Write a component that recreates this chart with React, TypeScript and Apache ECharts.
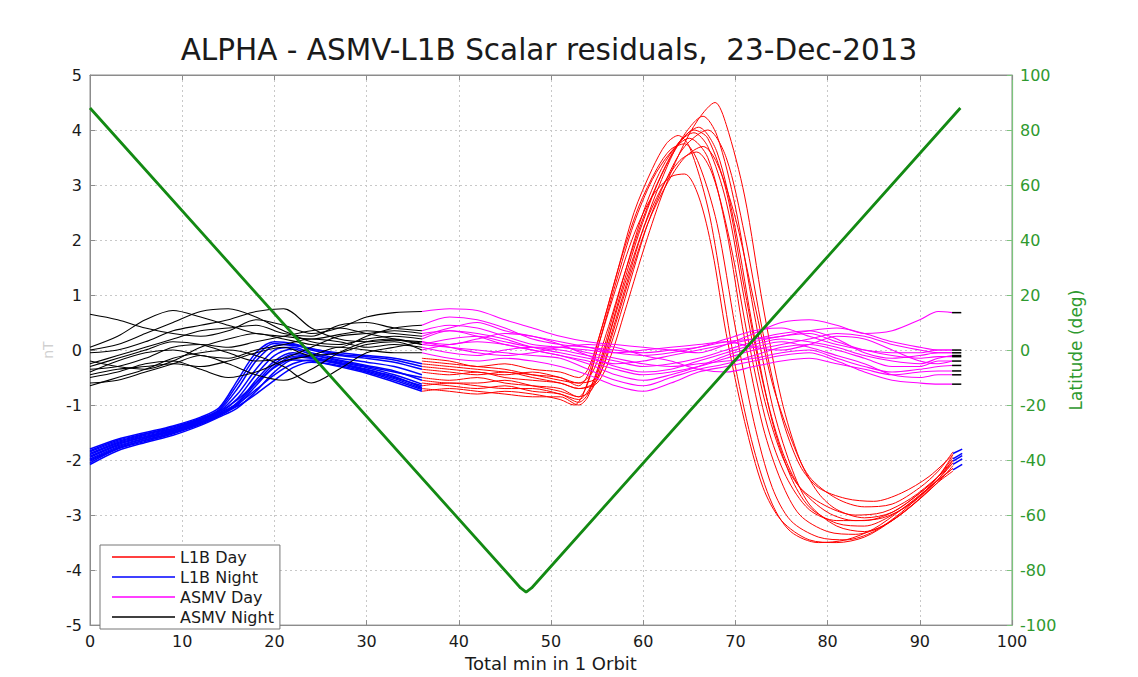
import React, { useEffect, useRef } from "react";
import * as echarts from "echarts";

const chartTitle = "ALPHA - ASMV-L1B Scalar residuals,  23-Dec-2013";
const xAxisName = "Total min in 1 Orbit";
const rightAxisName = "Latitude (deg)";
const leftAxisName = "nT";
const seriesNames = ["L1B Day", "L1B Night", "ASMV Day", "ASMV Night"];
const seriesColors = ["#ff0000", "#0000ff", "#ff00ff", "#000000"];
const latColor = "#138a13";
const axisGreen = "#2f9a2f";

// Latitude (right axis)
const latX = [0, 46.7, 47.3, 47.9, 94.4];
const latY = [88, -86.5, -88, -86.5, 88];

// ASMV Night (black), 0..36 min
const asmvNightX = [0, 3, 6, 9, 12, 15, 18, 21, 24, 27, 30, 33, 36];
const asmvNightY = [
  [0.65, 0.55, 0.40, 0.30, 0.25, 0.35, 0.55, 0.45, 0.30, 0.40, 0.60, 0.68, 0.70],
  [0.05, 0.25, 0.55, 0.72, 0.60, 0.45, 0.30, 0.25, 0.20, 0.28, 0.35, 0.30, 0.25],
  [0.00, 0.10, 0.30, 0.50, 0.70, 0.75, 0.60, 0.35, 0.15, 0.10, 0.20, 0.25, 0.20],
  [-0.05, 0.00, 0.15, 0.35, 0.45, 0.55, 0.70, 0.75, 0.40, 0.20, 0.15, 0.18, 0.15],
  [-0.25, -0.10, 0.05, 0.20, 0.35, 0.40, 0.45, 0.30, 0.25, 0.45, 0.50, 0.40, 0.35],
  [-0.35, -0.30, -0.15, 0.05, 0.10, 0.05, 0.15, 0.25, 0.35, 0.40, 0.30, 0.20, 0.10],
  [-0.40, -0.20, -0.05, 0.00, -0.10, -0.15, 0.00, 0.10, 0.20, 0.15, 0.05, 0.10, 0.05],
  [-0.45, -0.35, -0.30, -0.25, -0.30, -0.20, -0.05, 0.05, -0.10, -0.05, 0.10, 0.15, 0.00],
  [-0.50, -0.40, -0.25, -0.20, -0.35, -0.50, -0.40, -0.20, -0.10, 0.05, 0.00, -0.05, -0.05],
  [-0.60, -0.55, -0.40, -0.25, -0.10, -0.25, -0.45, -0.55, -0.35, -0.05, 0.15, 0.20, 0.10],
  [-0.65, -0.50, -0.35, -0.15, -0.05, 0.00, -0.10, -0.30, -0.60, -0.35, -0.05, 0.05, 0.15],
  [-0.30, -0.15, 0.00, 0.15, 0.10, -0.05, -0.20, -0.15, 0.05, 0.25, 0.30, 0.35, 0.30],
  [-0.20, -0.30, -0.35, -0.20, 0.05, 0.20, 0.30, 0.20, 0.10, 0.05, 0.25, 0.40, 0.45],
];

// ASMV Day (magenta), 36..93.5 min
const asmvDayX = [36, 39, 42, 45, 48, 51, 54, 57, 60, 63, 66, 69, 72, 75, 78, 81, 84, 87, 90, 92, 93.5];
const asmvDayY = [
  [0.70, 0.75, 0.72, 0.55, 0.40, 0.25, 0.15, 0.10, 0.05, 0.00, -0.05, 0.10, 0.30, 0.50, 0.55, 0.45, 0.30, 0.35, 0.55, 0.70, 0.68],
  [0.25, 0.40, 0.50, 0.35, 0.25, 0.15, 0.05, -0.05, -0.10, -0.05, 0.05, 0.20, 0.35, 0.40, 0.25, 0.10, 0.00, -0.05, -0.05, 0.00, 0.00],
  [0.20, 0.35, 0.30, 0.20, 0.05, -0.05, -0.15, -0.25, -0.20, -0.10, 0.00, 0.10, 0.20, 0.30, 0.35, 0.20, -0.05, -0.15, -0.10, -0.05, -0.05],
  [0.15, 0.10, 0.20, 0.30, 0.25, 0.10, -0.10, -0.30, -0.40, -0.35, -0.20, -0.05, 0.10, 0.20, 0.15, 0.05, -0.10, -0.20, -0.25, -0.15, -0.10],
  [0.35, 0.45, 0.40, 0.25, 0.10, 0.05, 0.00, -0.05, 0.00, 0.05, 0.10, 0.15, 0.05, 0.00, 0.10, 0.25, 0.20, 0.00, -0.20, -0.25, -0.20],
  [0.10, 0.05, 0.00, -0.05, -0.10, -0.15, -0.35, -0.55, -0.65, -0.50, -0.35, -0.25, -0.10, 0.05, 0.10, 0.00, -0.15, -0.30, -0.30, -0.20, -0.20],
  [0.05, -0.05, -0.10, 0.00, 0.05, 0.05, -0.05, -0.15, -0.25, -0.30, -0.25, -0.20, -0.15, -0.05, 0.00, -0.15, -0.30, -0.40, -0.35, -0.30, -0.28],
  [0.00, 0.10, 0.15, 0.10, 0.00, -0.10, -0.25, -0.45, -0.55, -0.45, -0.30, -0.10, 0.05, 0.15, 0.05, -0.10, -0.25, -0.45, -0.50, -0.45, -0.45],
  [-0.05, -0.15, -0.20, -0.15, -0.20, -0.30, -0.45, -0.65, -0.75, -0.60, -0.40, -0.30, -0.20, -0.10, -0.05, -0.20, -0.40, -0.55, -0.60, -0.62, -0.62],
  [0.10, 0.20, 0.25, 0.15, 0.05, 0.00, -0.10, -0.20, -0.30, -0.25, -0.15, 0.00, 0.15, 0.25, 0.30, 0.15, 0.00, -0.10, -0.15, -0.12, -0.12],
  [0.15, 0.05, -0.05, -0.10, -0.05, 0.05, 0.10, 0.05, -0.10, -0.20, -0.35, -0.40, -0.30, -0.20, -0.15, -0.25, -0.35, -0.45, -0.40, -0.38, -0.38],
  [0.30, 0.35, 0.25, 0.10, 0.00, -0.10, -0.20, -0.35, -0.45, -0.40, -0.30, -0.15, 0.00, 0.10, 0.20, 0.30, 0.25, 0.10, 0.00, -0.05, -0.05],
  [0.45, 0.60, 0.55, 0.40, 0.20, 0.10, 0.05, 0.00, -0.05, 0.00, 0.05, 0.15, 0.20, 0.25, 0.35, 0.40, 0.30, 0.15, 0.05, 0.00, 0.00],
];

// ASMV Night tail (black stubs at end of orbit)
const asmvNightTailX = [93.5, 94.5];
const asmvNightTailY = [0.68, 0.00, -0.05, -0.10, -0.20, -0.28, -0.38, -0.45, -0.62, -0.12];

// L1B Night (blue), 0..36 min
const l1bNightX = [0, 3, 6, 9, 12, 14, 16, 18, 20, 22, 24, 27, 30, 33, 36];
const l1bNightY = [
  [-1.80, -1.62, -1.50, -1.38, -1.22, -1.05, -0.55, -0.05, 0.15, 0.12, 0.02, -0.05, -0.10, -0.15, -0.25],
  [-1.85, -1.66, -1.53, -1.42, -1.25, -1.10, -0.70, -0.20, 0.08, 0.10, 0.00, -0.10, -0.15, -0.22, -0.35],
  [-1.90, -1.70, -1.57, -1.45, -1.27, -1.12, -0.80, -0.35, 0.00, 0.05, -0.05, -0.15, -0.22, -0.30, -0.45],
  [-1.95, -1.74, -1.60, -1.47, -1.30, -1.15, -0.88, -0.45, -0.10, 0.02, -0.08, -0.18, -0.28, -0.38, -0.55],
  [-2.00, -1.78, -1.63, -1.50, -1.32, -1.18, -0.95, -0.55, -0.20, -0.05, -0.12, -0.22, -0.32, -0.45, -0.62],
  [-2.05, -1.80, -1.66, -1.52, -1.35, -1.20, -1.00, -0.65, -0.30, -0.12, -0.15, -0.25, -0.38, -0.52, -0.70],
  [-2.08, -1.83, -1.68, -1.55, -1.37, -1.22, -1.05, -0.75, -0.40, -0.18, -0.20, -0.30, -0.42, -0.58, -0.75],
  [-1.88, -1.68, -1.55, -1.43, -1.26, -1.12, -0.90, -0.60, -0.32, -0.15, -0.10, -0.20, -0.30, -0.40, -0.50],
  [-1.93, -1.72, -1.58, -1.46, -1.28, -1.14, -0.98, -0.72, -0.45, -0.25, -0.18, -0.25, -0.35, -0.50, -0.65],
  [-1.98, -1.76, -1.61, -1.48, -1.31, -1.16, -1.02, -0.80, -0.55, -0.32, -0.22, -0.28, -0.40, -0.55, -0.72],
  [-1.83, -1.64, -1.52, -1.40, -1.24, -1.08, -0.62, -0.12, 0.12, 0.08, 0.03, -0.08, -0.12, -0.18, -0.30],
  [-2.02, -1.79, -1.64, -1.51, -1.33, -1.19, -0.97, -0.60, -0.25, -0.08, -0.14, -0.24, -0.36, -0.48, -0.68],
];

// L1B Night tail (blue stubs at end of orbit)
const l1bNightTailX = [93.6, 94.6];
const l1bNightTailStart = [-1.88, -1.98, -2.08, -2.18, -2.02];
const l1bNightTailEnd = [-1.80, -1.88, -1.98, -2.08, -1.92];

// L1B Day (red), 36..93.6 min, [minute, nT]
const l1bDay1 = [[36,-0.35],[39,-0.4],[42,-0.45],[45,-0.4],[48,-0.5],[51,-0.6],[53,-0.7],[55,-0.6],[56.5,-0.1],[58,0.7],[60,1.8],[62,2.8],[64,3.6],[66,4.2],[67.8,4.5],[69,4.1],[71,2.8],[73,0.8],[75,-0.9],[77,-2.0],[79,-2.6],[81,-2.9],[84,-3.05],[87,-2.95],[90,-2.6],[92,-2.3],[93.6,-1.9]];
const l1bDay2 = [[36,-0.5],[39,-0.55],[42,-0.5],[45,-0.6],[48,-0.65],[51,-0.7],[53,-0.85],[54.5,-0.7],[56,0.0],[58,1.1],[60,2.2],[62,3.1],[64,3.8],[66.5,4.25],[68,3.9],[70,2.6],[72,0.7],[74,-1.0],[76,-2.1],[78,-2.8],[81,-3.2],[84,-3.3],[87,-3.1],[90,-2.7],[92,-2.35],[93.6,-2.0]];
const l1bDay3 = [[36,-0.25],[39,-0.3],[42,-0.35],[45,-0.4],[48,-0.45],[51,-0.55],[53,-0.6],[54.5,-0.4],[56,0.3],[58,1.4],[60,2.4],[62,3.2],[64,3.8],[66,4.05],[68,3.6],[70,2.2],[72,0.3],[74,-1.3],[76,-2.3],[78,-2.85],[81,-3.15],[84,-3.2],[87,-3.0],[90,-2.65],[92,-2.3],[93.6,-1.95]];
const l1bDay4 = [[36,-0.6],[39,-0.65],[42,-0.7],[45,-0.65],[48,-0.75],[51,-0.8],[53,-0.95],[54,-0.8],[55.5,-0.1],[57.5,1.1],[60,2.5],[62,3.3],[64,3.8],[65.5,3.95],[67,3.7],[69,2.7],[71,0.9],[73,-0.8],[75,-1.9],[77,-2.5],[80,-2.85],[83,-3.0],[86,-2.95],[89,-2.7],[92,-2.3],[93.6,-2.05]];
const l1bDay5 = [[36,-0.7],[39,-0.75],[42,-0.8],[45,-0.75],[48,-0.8],[51,-0.9],[52.5,-1.0],[53.5,-0.8],[55,0.0],[57,1.2],[59,2.3],[61,3.1],[63,3.6],[65,3.85],[67,3.5],[69,2.2],[71,0.2],[73,-1.4],[75,-2.4],[77,-3.0],[80,-3.3],[83,-3.35],[86,-3.2],[89,-2.85],[92,-2.4],[93.6,-2.1]];
const l1bDay6 = [[36,-0.15],[39,-0.2],[42,-0.3],[45,-0.25],[48,-0.35],[51,-0.4],[53,-0.5],[54,-0.35],[55.5,0.4],[57.5,1.6],[59.5,2.6],[61.5,3.3],[63,3.65],[64.5,3.75],[66,3.4],[68,2.3],[70,0.4],[72,-1.3],[74,-2.5],[76,-3.1],[79,-3.4],[82,-3.45],[85,-3.3],[88,-2.95],[91,-2.5],[93.6,-2.15]];
const l1bDay7 = [[36,-0.55],[39,-0.6],[42,-0.6],[45,-0.55],[48,-0.65],[51,-0.75],[53,-0.85],[54,-0.6],[55,0.0],[57,1.1],[59,2.1],[61,2.8],[63,3.15],[64.5,3.2],[66,2.8],[67.5,1.8],[69,0.3],[71,-1.3],[73,-2.5],[75,-3.1],[78,-3.45],[81,-3.5],[84,-3.4],[87,-3.1],[90,-2.7],[92,-2.4],[93.6,-2.2]];
const l1bDay8 = [[36,-0.4],[39,-0.45],[42,-0.4],[45,-0.5],[48,-0.55],[51,-0.6],[53,-0.7],[55,-0.55],[56.5,0.2],[58.5,1.3],[60.5,2.3],[62.5,3.0],[64.5,3.5],[66.5,3.7],[68,3.4],[70,2.4],[72,0.9],[74,-0.6],[76,-1.6],[78,-2.3],[81,-2.7],[84,-2.85],[87,-2.8],[90,-2.5],[92,-2.2],[93.6,-1.85]];
const l1bDay9 = [[36,-0.3],[39,-0.35],[42,-0.4],[45,-0.45],[48,-0.4],[51,-0.5],[53,-0.6],[55,-0.5],[56.5,0.1],[58.5,1.2],[60.5,2.3],[62.5,3.1],[64.5,3.7],[67,4.0],[69,3.5],[71,2.1],[73,0.3],[75,-1.2],[77,-2.1],[79,-2.5],[82,-2.7],[85,-2.75],[88,-2.6],[91,-2.3],[93.6,-1.9]];
const l1bDay10 = [[36,-0.65],[39,-0.6],[42,-0.65],[45,-0.7],[48,-0.7],[51,-0.8],[53,-0.9],[54.5,-0.6],[56,0.1],[58,1.2],[60,2.2],[62,2.95],[64,3.45],[65.8,3.6],[67.5,3.2],[69.5,1.9],[71.5,0.1],[73.5,-1.4],[75.5,-2.3],[78,-2.9],[81,-3.1],[84,-3.1],[87,-2.95],[90,-2.6],[92,-2.3],[93.6,-2.0]];
const l1bDay11 = [[36,-0.2],[39,-0.25],[42,-0.3],[45,-0.35],[48,-0.45],[51,-0.5],[53,-0.65],[54,-0.45],[55,0.1],[57,1.3],[59,2.5],[61,3.3],[62.5,3.75],[63.8,3.9],[65,3.7],[67,2.6],[68.5,1.2],[70,-0.3],[72,-1.8],[74,-2.8],[76,-3.3],[79,-3.5],[82,-3.45],[85,-3.25],[88,-2.9],[91,-2.5],[93.6,-2.15]];
const l1bDay12 = [[36,-0.75],[39,-0.7],[42,-0.75],[45,-0.8],[48,-0.85],[51,-0.85],[53,-1.0],[54,-0.85],[55.5,-0.2],[57.5,1.0],[59.5,2.1],[61.5,3.0],[63.5,3.65],[65.5,4.0],[67,3.85],[69,2.9],[71,1.1],[73,-0.6],[75,-1.8],[77,-2.5],[80,-2.95],[83,-3.1],[86,-3.05],[89,-2.8],[92,-2.35],[93.6,-2.05]];
const l1bDayCurves = [l1bDay1, l1bDay2, l1bDay3, l1bDay4, l1bDay5, l1bDay6, l1bDay7, l1bDay8, l1bDay9, l1bDay10, l1bDay11, l1bDay12];

const FONT = "'DejaVu Sans', Verdana, sans-serif";

const zip = (xs: number[], ys: number[]) => xs.map((x, i) => [x, ys[i]]);

function lineSeries(name: string, color: string, width: number, data: number[][], z: number, smooth = 0.3, yAxisIndex = 0) {
  return {
    type: "line",
    name,
    data,
    yAxisIndex,
    symbol: "none",
    showSymbol: false,
    smooth,
    silent: true,
    z,
    lineStyle: { color, width },
    itemStyle: { color },
    emphasis: { disabled: true },
  };
}

export default function App() {
  const ref = useRef<HTMLDivElement>(null);
  useEffect(() => {
    if (!ref.current) return;
    const chart = echarts.init(ref.current, undefined, { renderer: "svg" });
    const series: any[] = [];
    l1bDayCurves.forEach((c) => series.push(lineSeries(seriesNames[0], seriesColors[0], 1, c, 2)));
    l1bNightY.forEach((ys) => series.push(lineSeries(seriesNames[1], seriesColors[1], 1.5, zip(l1bNightX, ys), 3)));
    l1bNightTailStart.forEach((s, i) =>
      series.push(lineSeries(seriesNames[1], seriesColors[1], 1.5, zip(l1bNightTailX, [s, l1bNightTailEnd[i]]), 3, 0))
    );
    asmvDayY.forEach((ys) => series.push(lineSeries(seriesNames[2], seriesColors[2], 1.1, zip(asmvDayX, ys), 4)));
    asmvNightY.forEach((ys) => series.push(lineSeries(seriesNames[3], seriesColors[3], 1.1, zip(asmvNightX, ys), 5)));
    asmvNightTailY.forEach((y) =>
      series.push(lineSeries(seriesNames[3], seriesColors[3], 1.5, zip(asmvNightTailX, [y, y]), 5, 0))
    );
    series.push(lineSeries(rightAxisName, latColor, 2.8, zip(latX, latY), 6, 0, 1));

    const option: any = {
      animation: false,
      backgroundColor: "#ffffff",
      title: {
        text: chartTitle,
        left: 549,
        top: 35,
        padding: 0,
        textAlign: "center",
        textStyle: { fontFamily: FONT, fontSize: 29.5, fontWeight: "normal", color: "#1a1a1a" },
      },
      legend: {
        data: seriesNames.map((n, i) => ({
          name: n,
          icon: "rect",
          itemStyle: { color: seriesColors[i], borderWidth: 0 },
          lineStyle: { color: seriesColors[i] },
        })),
        orient: "vertical",
        left: 100,
        top: 545,
        backgroundColor: "#ffffff",
        borderColor: "#777777",
        borderWidth: 1,
        borderRadius: 0,
        padding: [4, 6, 4, 12],
        itemWidth: 63,
        itemHeight: 1.5,
        itemGap: 4,
        selectedMode: false,
        textStyle: { fontFamily: FONT, fontSize: 16, color: "#1a1a1a", lineHeight: 15.5 },
        z: 10,
      },
      grid: {
        left: 90,
        right: 126,
        top: 75,
        bottom: 45,
        show: true,
        borderColor: "#8c8c8c",
        borderWidth: 1,
        backgroundColor: "#ffffff",
      },
      xAxis: [
        {
          type: "value",
          min: 0,
          max: 100,
          interval: 10,
          name: xAxisName,
          nameLocation: "middle",
          nameGap: 26,
          nameTextStyle: { fontFamily: FONT, fontSize: 18, color: "#1a1a1a" },
          axisLine: { show: true, onZero: false, lineStyle: { color: "#8c8c8c", width: 1 } },
          axisTick: { show: true, inside: true, length: 5, lineStyle: { color: "#8c8c8c" } },
          axisLabel: { fontFamily: FONT, fontSize: 16, color: "#1a1a1a", margin: 8 },
          splitLine: { show: true, lineStyle: { color: "#c8c8c8", type: [2, 3], width: 1 } },
        },
        {
          type: "value",
          position: "top",
          min: 0,
          max: 100,
          interval: 10,
          axisLine: { show: true, onZero: false, lineStyle: { color: "#8c8c8c", width: 1 } },
          axisTick: { show: true, inside: true, length: 5, lineStyle: { color: "#8c8c8c" } },
          axisLabel: { show: false },
          splitLine: { show: false },
        },
      ],
      yAxis: [
        {
          type: "value",
          min: -5,
          max: 5,
          interval: 1,
          name: leftAxisName,
          nameLocation: "middle",
          nameRotate: 90,
          nameGap: 34,
          nameTextStyle: { fontFamily: FONT, fontSize: 14, color: "#d0d0d0" },
          axisLine: { show: true, onZero: false, lineStyle: { color: "#8c8c8c", width: 1 } },
          axisTick: { show: true, inside: true, length: 5, lineStyle: { color: "#8c8c8c" } },
          axisLabel: { fontFamily: FONT, fontSize: 16, color: "#1a1a1a", margin: 8 },
          splitLine: { show: true, lineStyle: { color: "#c8c8c8", type: [2, 3], width: 1 } },
        },
        {
          type: "value",
          min: -100,
          max: 100,
          interval: 20,
          position: "right",
          name: rightAxisName,
          nameLocation: "middle",
          nameRotate: 90,
          nameGap: 52,
          nameTextStyle: { fontFamily: FONT, fontSize: 17, color: axisGreen },
          axisLine: { show: true, onZero: false, lineStyle: { color: "#7cc47c", width: 1.2 } },
          axisTick: { show: true, inside: true, length: 5, lineStyle: { color: "#7cc47c" } },
          axisLabel: { fontFamily: FONT, fontSize: 16, color: axisGreen, margin: 8 },
          splitLine: { show: false },
        },
      ],
      series,
    };
    chart.setOption(option);
    return () => chart.dispose();
  }, []);
  return <div ref={ref} style={{ position: "fixed", left: 0, top: 0, width: 1138, height: 677 }} />;
}
